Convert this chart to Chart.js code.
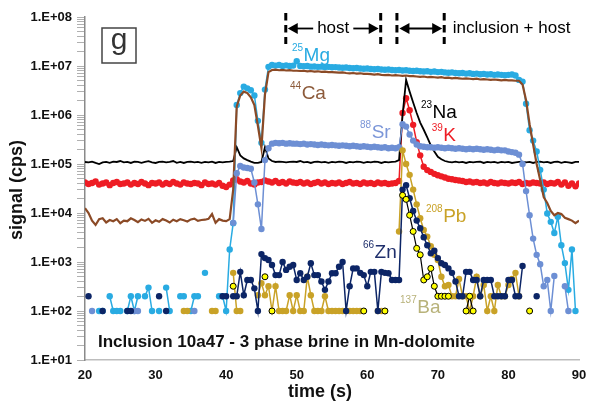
<!DOCTYPE html>
<html>
<head>
<meta charset="utf-8">
<script src="https://cdn.jsdelivr.net/npm/chart.js@4.4.1/dist/chart.umd.min.js"></script>
<style>
  html, body { margin: 0; padding: 0; background: #fff; }
  #wrap { width: 589px; height: 402px; }
</style>
</head>
<body>
<div id="wrap"><canvas id="chart" width="589" height="402"></canvas></div>
<script>
const _ = null;

// sampling: one reading every 0.5 s from 20 s
const t0 = 20, dt = 0.5;

const xTicks = [20, 30, 40, 50, 60, 70, 80, 90];
const yDecades = [1e1, 1e2, 1e3, 1e4, 1e5, 1e6, 1e7, 1e8];
const yTickLabels = ['1.E+01', '1.E+02', '1.E+03', '1.E+04', '1.E+05', '1.E+06', '1.E+07', '1.E+08'];

// signal (cps), rows of 5 s
const mg = [
  _, _, _, _, 1e2, 1e2, _, 2e2, 1e2, 1e2,
  1e2, _, 1e2, 2e2, 1e2, 2e2, _, 2e2, 3e2, 1e2,
  _, 1e2, _, 3e2, 1e2, _, _, 2e2, 2e2, _,
  1e2, 2e2, 2e2, _, 6e2, _, _, _, 2e2, 2e2,
  1e2, 1.8e3, 6.2e3, 1.6e6, 2.8e6, 3.8e6, 3.5e6, 3.2e6, 2.5e6, 7.6e5,
  2.7e5, 3.3e6, 9.6e6, 1.05e7, 1.02e7, 1.05e7, 1e7, 1.03e7, 1e7, 1.02e7,
  1.25e7, 1e7, 9.9e6, 1e7, 9.7e6, 9.8e6, 9.6e6, 9.7e6, 9.5e6, 9.6e6,
  9.4e6, 9.5e6, 9.3e6, 9.2e6, 9.3e6, 9.1e6, 9e6, 9.1e6, 8.9e6, 8.8e6,
  8.9e6, 8.7e6, 8.6e6, 8.7e6, 8.5e6, 8.4e6, 8.5e6, 8.3e6, 8.2e6, 8.3e6,
  8.1e6, 8.2e6, 8e6, 7.9e6, 8e6, 7.8e6, 7.7e6, 7.8e6, 7.6e6, 7.7e6,
  7.5e6, 7.6e6, 7.4e6, 7.3e6, 7.4e6, 7.2e6, 7.1e6, 7.2e6, 7e6, 7.1e6,
  6.9e6, 7e6, 6.8e6, 6.9e6, 6.7e6, 6.8e6, 6.6e6, 6.7e6, 6.6e6, 6.5e6,
  6.6e6, 6.7e6, 6.4e6, 5.2e6, 4.8e6, 1.7e6, 4.9e5, 3e5, 1.8e5, 7.6e4,
  3e4, 9.8e3, 6.6e3, 3.9e3, 8.4e3, 2.2e3, 9.5e2, 2.7e2, 1.8e3, 1e2,
  _
];
const ca = [
  1.25e4, 1e4, 7e3, 5.7e3, 7.5e3, 7.8e3, 6.4e3, 7.2e3, 6.8e3, 7.5e3,
  6.2e3, 7e3, 6.8e3, 7.8e3, 7.2e3, 6.5e3, 7.4e3, 6.9e3, 7.6e3, 6.3e3,
  7.1e3, 6.6e3, 7.5e3, 7e3, 6.4e3, 7.3e3, 6.8e3, 7.5e3, 7.1e3, 6.7e3,
  7.4e3, 7.7e3, 6.9e3, 7.2e3, 7.3e3, 7.6e3, 9.5e3, 6.3e3, 7.5e3, 7e3,
  6.8e3, 7.5e3, 3e4, 1.5e6, 2.5e6, 3e6, 2.8e6, 2.3e6, 1.6e6, 6e5,
  2.1e5, 2.6e6, 7.5e6, 8.3e6, 8.4e6, 8.2e6, 8.3e6, 8.1e6, 8.2e6, 8e6,
  8e6, 7.9e6, 8e6, 7.8e6, 7.9e6, 7.7e6, 7.8e6, 7.6e6, 7.7e6, 7.5e6,
  7.5e6, 7.4e6, 7.3e6, 7.4e6, 7.2e6, 7.1e6, 7.2e6, 7e6, 7.1e6, 6.9e6,
  6.9e6, 6.8e6, 6.7e6, 6.8e6, 6.6e6, 6.5e6, 6.6e6, 6.4e6, 6.5e6, 6.4e6,
  6.3e6, 6.4e6, 6.2e6, 6.2e6, 6.1e6, 6e6, 6.1e6, 5.9e6, 6e6, 5.9e6,
  5.8e6, 5.9e6, 5.7e6, 5.8e6, 5.6e6, 5.7e6, 5.6e6, 5.5e6, 5.6e6, 5.5e6,
  5.4e6, 5.5e6, 5.3e6, 5.4e6, 5.3e6, 5.2e6, 5.3e6, 5.2e6, 5.1e6, 5.2e6,
  5.1e6, 5.1e6, 5e6, 5e6, 4.2e6, 2e6, 6.5e5, 2.5e5, 1e5, 4.7e4,
  2.1e4, 1.6e4, 1.1e4, 9e3, 1e4, 9.5e3, 8e3, 7.5e3, 7e3, 6.2e3,
  7e3
];
const na = [
  1.1e5, 1.08e5, 1.12e5, 1.05e5, 1e5, 1.08e5, 1.1e5, 1.06e5, 1.12e5, 1.1e5,
  1.15e5, 1.08e5, 1.1e5, 1.05e5, 1.12e5, 1.1e5, 1.06e5, 1.1e5, 1.14e5, 1.08e5,
  1.05e5, 1.1e5, 1.12e5, 1.08e5, 1.1e5, 1.15e5, 1.06e5, 1.1e5, 1.05e5, 1.1e5,
  1.12e5, 1.08e5, 1.1e5, 1.06e5, 1.1e5, 1.08e5, 1.12e5, 1.05e5, 1.1e5, 1.08e5,
  1.1e5, 1.12e5, 1.15e5, 2.2e5, 1.5e5, 1.3e5, 1.2e5, 1.12e5, 1.05e5, 1.05e5,
  1.1e5, 2.2e5, 1.3e5, 1.15e5, 1.1e5, 1.12e5, 1.1e5, 1.08e5, 1.1e5, 1.12e5,
  1.1e5, 1.15e5, 1.08e5, 1.1e5, 1.05e5, 1.1e5, 1.12e5, 1.08e5, 1.1e5, 1.06e5,
  1.1e5, 1.08e5, 1.12e5, 1.1e5, 1.05e5, 1.1e5, 1.08e5, 1.12e5, 1.1e5, 1.06e5,
  1.1e5, 1.08e5, 1.12e5, 1.1e5, 1.05e5, 1.1e5, 1.08e5, 1.1e5, 1.12e5, 1.2e5,
  1e6, 5.2e6, 3e6, 1.8e6, 1.1e6, 7e5, 5e5, 3.5e5, 2.4e5, 1.8e5,
  1.4e5, 1.25e5, 1.15e5, 1.1e5, 1.08e5, 1.12e5, 1.08e5, 1.1e5, 1.05e5, 1.1e5,
  1.08e5, 1.1e5, 1.12e5, 1.05e5, 1.1e5, 1.08e5, 1.1e5, 1.06e5, 1.1e5, 1.08e5,
  1.1e5, 1.05e5, 1.08e5, 1.1e5, 1.12e5, 1.08e5, 1.1e5, 1.05e5, 1.1e5, 1.12e5,
  1.08e5, 1.1e5, 1.05e5, 1.1e5, 1.12e5, 1.06e5, 1.1e5, 1.08e5, 1.05e5, 1.1e5,
  1.1e5
];
const k = [
  4.2e4, 3.9e4, 4.1e4, 4.4e4, 3.8e4, 4e4, 4.2e4, 3.7e4, 4.1e4, 4.3e4,
  3.9e4, 4e4, 4.2e4, 3.8e4, 4.1e4, 3.9e4, 4.3e4, 4e4, 3.7e4, 4.1e4,
  4e4, 4.2e4, 3.8e4, 4.1e4, 3.9e4, 4.3e4, 4e4, 3.8e4, 4.2e4, 4e4,
  3.9e4, 4.1e4, 4e4, 3.7e4, 4.2e4, 3.9e4, 4e4, 3.8e4, 4.1e4, 3.6e4,
  3.4e4, 3.8e4, 4.6e4, 4.9e4, 4.4e4, 4.2e4, 4.5e4, 4e4, 3.8e4, 4.2e4,
  4.3e4, 4.6e4, 4.4e4, 4.2e4, 4.5e4, 4.1e4, 4.3e4, 4e4, 4.4e4, 4.2e4,
  4.1e4, 4.3e4, 4e4, 4.2e4, 3.9e4, 4.1e4, 4.3e4, 4e4, 4.2e4, 3.9e4,
  4.1e4, 4e4, 4.2e4, 3.9e4, 4.1e4, 4.3e4, 4e4, 4.1e4, 3.9e4, 4.2e4,
  4e4, 4.1e4, 3.9e4, 4.2e4, 4e4, 4.1e4, 3.9e4, 4e4, 4.1e4, 4.5e4,
  1.1e6, 2.2e6, 1.25e6, 6.3e5, 2.8e5, 1.5e5, 8.8e4, 7.5e4, 6.9e4, 6.3e4,
  5.9e4, 5.6e4, 5.3e4, 5e4, 4.9e4, 4.7e4, 4.6e4, 4.5e4, 4.3e4, 4.4e4,
  4.2e4, 4.3e4, 4.1e4, 4.2e4, 4e4, 4.3e4, 4.1e4, 4e4, 4.2e4, 4.1e4,
  4e4, 4.2e4, 4.1e4, 4.3e4, 3.9e4, 4.1e4, 4e4, 4.2e4, 4.1e4, 4e4,
  4.2e4, 3.9e4, 4.1e4, 4e4, 4.3e4, 3.8e4, 4.2e4, 3.6e4, 4e4, 3.5e4,
  4e4
];
const sr = [
  _, _, 1e2, _, _, _, _, _, _, _,
  _, _, _, _, 1e2, 1e2, _, _, _, _,
  _, _, _, _, _, _, _, _, _, _,
  _, 1e2, _, _, _, _, _, _, _, _,
  _, _, 6.3e3, 6.5e4, 9.1e4, 8.5e4, 8.3e4, 8e4, 4.2e4, 1.5e4,
  4.7e3, 1.2e5, 2.1e5, 2.6e5, 2.7e5, 2.65e5, 2.7e5, 2.6e5, 2.65e5, 2.6e5,
  2.6e5, 2.55e5, 2.6e5, 2.5e5, 2.55e5, 2.5e5, 2.45e5, 2.5e5, 2.45e5, 2.4e5,
  2.45e5, 2.4e5, 2.35e5, 2.4e5, 2.35e5, 2.3e5, 2.35e5, 2.3e5, 2.25e5, 2.3e5,
  2.25e5, 2.2e5, 2.25e5, 2.2e5, 2.15e5, 2.2e5, 2.1e5, 2.15e5, 2.1e5, 2.2e5,
  6.5e5, 5.8e5, 4e5, 3e5, 2.5e5, 2.3e5, 2.25e5, 2.2e5, 2.2e5, 2.15e5,
  2.2e5, 2.15e5, 2.1e5, 2.15e5, 2.1e5, 2.05e5, 2.1e5, 2.05e5, 2e5, 2.05e5,
  2e5, 2.05e5, 2e5, 1.95e5, 2e5, 1.95e5, 1.9e5, 1.95e5, 1.9e5, 1.9e5,
  1.8e5, 1.75e5, 1.7e5, 1.55e5, 1e5, 2.8e4, 9e3, 3e3, 1.4e3, 9e2,
  3.2e2, 4.3e2, 1e2, 5.2e2, _, _, 3.2e2, 1e2, _, _,
  _
];
const pb = [
  _, _, _, _, _, _, _, _, _, _,
  _, _, _, _, _, _, _, _, _, _,
  _, _, _, _, _, _, _, _, 1e2, 1e2,
  _, _, _, _, _, _, 1e2, 1e2, _, _,
  _, _, 6e2, 1e2, 1e2, _, _, _, _, 2.1e2,
  3.7e2, 2.1e2, 3.2e2, 1e2, 3.2e2, 1e2, 1e2, 1e2, 2.1e2, 1e2,
  2.1e2, 1e2, 1e2, 5e2, 2.1e2, 1e2, 1e2, 1e2, 2e2, 1e2,
  1e2, 1e2, 1e2, 1e2, _, 1e2, 1e2, 1e2, 1e2, _,
  _, _, _, 1e2, 1e2, 1e2, _, _, _, 4.2e3,
  1.9e5, 1e5, 6e4, 3e4, 1.5e4, 7.8e3, 4.5e3, 3.3e3, 2.1e3, 1.4e3,
  1.1e3, 5e2, 3.2e2, 3.4e2, 2e2, 2e2, 4.5e2, 2e2, 2e2, 1e2,
  2e2, 5e2, 2e2, 3.4e2, 1e2, 2e2, 1e2, 3.4e2, 2e2, 2e2,
  3.4e2, 4.5e2, 6e2, 2e2, _, _, _, _, _, _,
  _, _, _, _, _, _, _, _, _, _,
  _
];
const zn = [
  _, 2e2, _, _, _, 1e2, _, _, _, _,
  _, _, 1e2, 1e2, _, _, _, _, _, _,
  _, 2e2, _, 1e2, _, _, _, _, _, _,
  _, _, _, _, _, _, _, _, _, 2e2,
  2e2, _, 2e2, 2e2, 6.3e2, 2.1e2, 4.3e2, 4.3e2, 2.9e2, 1e2,
  1.45e3, 1.2e3, 1.1e3, 8.7e2, 5.4e2, 5.4e2, 1e3, 6.9e2, 8e2, 8.7e2,
  4.3e2, 5.9e2, 4.3e2, 5e2, 9.4e2, 5.4e2, 5.4e2, 4e2, 2.7e2, 4e2,
  5.9e2, 5.9e2, 8e2, 1e3, 1e2, 3.2e2, 7.4e2, 7.4e2, 6e2, 5.4e2,
  3.2e2, 6.3e2, 6.3e2, 1e2, 6.3e2, 6e2, 5.9e2, 4.3e2, 4.3e2, 4.3e2,
  3e4, 3.7e4, 2e4, 1.1e4, 7e3, 4.9e3, 3.2e3, 2.2e3, 1.5e3, 1.7e3,
  1.2e3, 9.4e2, 8.7e2, 7.4e2, 6e2, 4e2, 2e2, 2e2, 6.3e2, 6.3e2,
  4.3e2, 4.3e2, 2e2, 4.3e2, 4.3e2, 4.3e2, 2e2, 2e2, 2e2, 2e2,
  4.3e2, 4.3e2, 2e2, 2e2, 8.3e2, _, _, _, 2e2, _,
  _, _, _, _, _, _, _, _, _, _,
  _
];
const ba = [
  _, _, _, _, _, _, _, _, _, _,
  _, _, _, _, _, _, _, _, _, _,
  _, _, _, _, _, _, _, _, _, _,
  _, _, _, _, _, _, _, _, _, _,
  _, _, 3.2e2, _, _, _, _, _, _, _,
  _, 5e2, _, 1e2, _, _, _, _, _, _,
  _, _, _, _, _, _, _, _, _, _,
  _, _, _, _, _, _, _, _, _, 1e2,
  _, _, _, _, _, 1e2, _, _, _, _,
  2.3e4, 1.9e4, 9e3, 4.2e3, 1.9e3, 1.4e3, 4.3e2, 5e2, 7.4e2, 3.2e2,
  2e2, 2e2, 2e2, 2e2, _, _, _, _, 1e2, 2e2,
  1e2, _, _, _, _, _, _, _, _, _,
  _, _, _, _, _, _, 1e2, _, _, _,
  _, _, _, _, _, _, _, _, _, _,
  _
];

const times = mg.map((v, i) => t0 + i * dt);
const pts = arr => arr.map((v, i) => ({ x: times[i], y: v }));

const FONT = '"Liberation Sans", Arial, sans-serif';

// isotope labels: anchor = (time, cps) of the left edge / baseline
const isoLabels = [
  { mass: '25', name: 'Mg', t: 49.33, v: 1.26e7, color: '#29abe2' },
  { mass: '44', name: 'Ca', t: 49.05, v: 2.1e6, color: '#8c5a3a' },
  { mass: '23', name: 'Na', t: 67.6, v: 8.7e5, color: '#000000' },
  { mass: '88', name: 'Sr', t: 58.97, v: 3.4e5, color: '#7b96d8' },
  { mass: '39', name: 'K', t: 69.13, v: 2.94e5, color: '#ee1c24' },
  { mass: '208', name: 'Pb', t: 68.32, v: 6.6e3, color: '#c9a227' },
  { mass: '66', name: 'Zn', t: 59.39, v: 1.2e3, color: '#1f2f6c' },
  { mass: '137', name: 'Ba', t: 64.64, v: 91, color: '#b8b27a' }
];

// host / inclusion markers (s)
const markers = [48.45, 61.9, 64.2, 70.9];

function head(ctx, tip, y, dir) {
  ctx.beginPath();
  ctx.moveTo(tip, y);
  ctx.lineTo(tip - dir * 10, y - 5.5);
  ctx.lineTo(tip - dir * 10, y + 5.5);
  ctx.closePath();
  ctx.fill();
}
function line(ctx, x1, y1, x2, y2) {
  ctx.beginPath();
  ctx.moveTo(x1, y1);
  ctx.lineTo(x2, y2);
  ctx.stroke();
}

const decor = {
  id: 'decor',
  afterDraw(chart) {
    const { ctx, chartArea: a, scales: { x, y } } = chart;
    ctx.save();

    // isotope labels
    ctx.textAlign = 'left';
    ctx.textBaseline = 'alphabetic';
    isoLabels.forEach(l => {
      const px = x.getPixelForValue(l.t), py = y.getPixelForValue(l.v);
      ctx.fillStyle = l.color;
      ctx.font = '10px ' + FONT;
      ctx.fillText(l.mass, px, py - 10);
      const w = ctx.measureText(l.mass).width;
      ctx.font = '19px ' + FONT;
      ctx.fillText(l.name, px + w + 0.5, py);
    });

    // panel letter
    ctx.strokeStyle = '#444';
    ctx.lineWidth = 1.5;
    ctx.strokeRect(a.left + 17, a.top + 11, 34, 35);
    ctx.fillStyle = '#333';
    ctx.textAlign = 'center';
    ctx.font = '30px ' + FONT;
    ctx.fillText('g', a.left + 34, a.top + 32);

    // sample title
    ctx.fillStyle = '#111';
    ctx.textAlign = 'left';
    ctx.textBaseline = 'middle';
    ctx.font = 'bold 17px ' + FONT;
    ctx.fillText('Inclusion 10a47 - 3 phase brine in Mn-dolomite', a.left + 13, a.bottom - 18);

    // axis titles
    ctx.font = 'bold 18px ' + FONT;
    ctx.textAlign = 'center';
    ctx.fillText('time (s)', 320, 392);
    ctx.save();
    ctx.translate(17, 190);
    ctx.rotate(-Math.PI / 2);
    ctx.fillText('signal (cps)', 0, 0);
    ctx.restore();

    // host / inclusion annotation
    const [d1, d2, d3, d4] = markers.map(m => x.getPixelForValue(m));
    const ay = 28.5;
    ctx.strokeStyle = '#000';
    ctx.fillStyle = '#000';
    ctx.lineWidth = 3;
    ctx.setLineDash([7.5, 4.5]);
    [d1, d2, d3, d4].forEach(d => line(ctx, d, 13, d, 44));
    ctx.setLineDash([]);

    ctx.font = '17px ' + FONT;
    ctx.textBaseline = 'middle';
    const hc = (d1 + d2) / 2;
    const hw = ctx.measureText('host').width;
    ctx.fillText('host', hc, ay);
    ctx.textAlign = 'left';
    ctx.fillText('inclusion + host', d4 + 8.5, ay);

    ctx.lineWidth = 1.8;
    line(ctx, d1 + 8, ay, hc - hw / 2 - 4, ay);
    head(ctx, d1 + 2, ay, -1);
    line(ctx, hc + hw / 2 + 4, ay, d2 - 8, ay);
    head(ctx, d2 - 2, ay, 1);
    line(ctx, d3 + 8, ay, d4 - 8, ay);
    head(ctx, d3 + 2.5, ay, -1);
    head(ctx, d4 - 2, ay, 1);

    ctx.restore();
  }
};

const dot = (color, order) => ({
  borderColor: color,
  backgroundColor: color,
  pointBackgroundColor: color,
  pointBorderWidth: 0,
  pointRadius: 3.2,
  borderWidth: 1.5,
  order
});

new Chart(document.getElementById('chart'), {
  type: 'line',
  data: {
    datasets: [
      { label: 'K', data: pts(k), ...dot('#ee1c24', 8) },
      { label: 'Na', data: pts(na), borderColor: '#000', borderWidth: 1.8, pointRadius: 0, order: 7 },
      { label: 'Mg', data: pts(mg), ...dot('#29abe2', 6) },
      { label: 'Ca', data: pts(ca), borderColor: '#8b4a26', borderWidth: 2.2, pointRadius: 0, order: 5 },
      { label: 'Sr', data: pts(sr), ...dot('#6d8fd4', 4) },
      { label: 'Pb', data: pts(pb), ...dot('#c9a227', 3) },
      { label: 'Zn', data: pts(zn), ...dot('#0c2566', 2) },
      {
        label: 'Ba', data: pts(ba),
        borderColor: '#000', borderWidth: 1.2,
        pointBackgroundColor: '#ffff00', pointBorderColor: '#000',
        pointBorderWidth: 1, pointRadius: 3, order: 1
      }
    ]
  },
  options: {
    responsive: false,
    animation: false,
    events: [],
    layout: { padding: { top: 17, right: 10, left: 0, bottom: 0 } },
    plugins: { legend: { display: false }, tooltip: { enabled: false } },
    scales: {
      x: {
        type: 'linear',
        min: 20,
        max: 90,
        afterFit: s => { s.height = 42; s.paddingLeft = 0; s.paddingRight = 0; },
        afterBuildTicks: s => { s.ticks = xTicks.map(v => ({ value: v })); },
        grid: { display: false, drawTicks: false, tickLength: 0 },
        border: { color: '#bdbdbd', width: 1.5 },
        ticks: { color: '#111', padding: 8, font: { family: FONT, size: 13, weight: 'bold' } }
      },
      y: {
        type: 'logarithmic',
        min: 10,
        max: 1e8,
        afterFit: s => { s.width = 85; s.paddingTop = 0; s.paddingBottom = 0; },
        afterBuildTicks: s => {
          const ticks = [];
          yDecades.forEach((d, i) => {
            ticks.push({ value: d });
            if (i < yDecades.length - 1) for (let m = 2; m <= 9; m++) ticks.push({ value: d * m });
          });
          s.ticks = ticks;
        },
        grid: { drawOnChartArea: false, drawTicks: true, tickLength: 8, color: '#b0b0b0', lineWidth: 1 },
        border: { color: '#8a8a8a', width: 1.5 },
        ticks: {
          autoSkip: false,
          color: '#111',
          padding: 5,
          font: { family: FONT, size: 13, weight: 'bold' },
          callback: v => {
            const i = yDecades.indexOf(v);
            return i >= 0 ? yTickLabels[i] : '';
          }
        }
      }
    }
  },
  plugins: [decor]
});
</script>
</body>
</html>
